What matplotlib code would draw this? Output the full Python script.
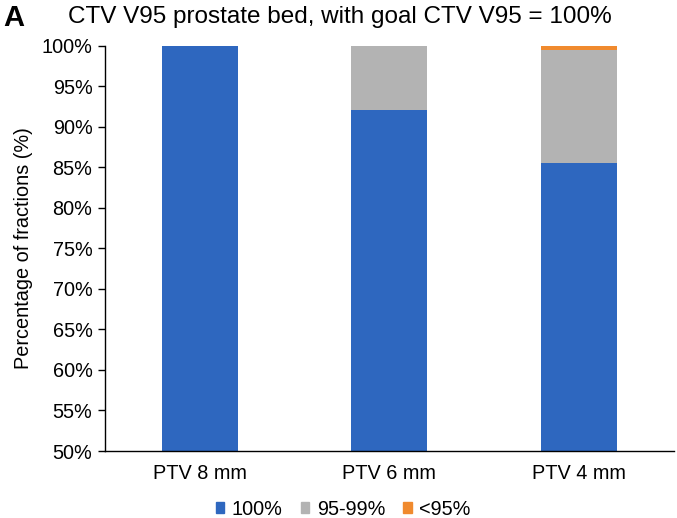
import numpy as np
import matplotlib
matplotlib.use("Agg")
import matplotlib.pyplot as plt
from matplotlib.patches import Patch

plt.rcParams['font.family'] = ['Liberation Sans', 'DejaVu Sans']

# data (percent of fractions)
categories = ["PTV 8 mm", "PTV 6 mm", "PTV 4 mm"]
v100 = [100.0, 92.0, 85.5]
v95_99 = [0.0, 8.0, 14.0]
v_lt95 = [0.0, 0.0, 0.5]
series_labels = ["100%", "95-99%", "<95%"]
colors = ["#2E67BF", "#B3B3B3", "#F08A2E"]

fig = plt.figure(figsize=(6.77, 5.18), dpi=100)
ax = fig.add_axes([0.155, 0.1293, 0.840, 0.7827])

x = np.arange(len(categories))
w = 0.4
ax.bar(x, v100, w, color=colors[0])
ax.bar(x, v95_99, w, bottom=v100, color=colors[1])
ax.bar(x, v_lt95, w, bottom=np.array(v100) + np.array(v95_99), color=colors[2])

ax.set_xlim(-0.5, 2.5)
ax.set_ylim(50, 100)
ax.set_yticks(np.arange(50, 101, 5))
ax.set_yticklabels([f"{t}%" for t in range(50, 101, 5)], fontsize=14.3)
ax.set_xticks(x)
ax.set_xticklabels(categories, fontsize=14.3)
ax.tick_params(axis='x', length=0, pad=9)
ax.tick_params(axis='y', length=5, width=1, pad=4)
for s in ["top", "right"]:
    ax.spines[s].set_visible(False)
ax.spines["left"].set_linewidth(1)
ax.spines["bottom"].set_linewidth(1)
ax.set_ylabel("Percentage of fractions (%)", fontsize=14.3, labelpad=6)

fig.text(0.502, 0.967, "CTV V95 prostate bed, with goal CTV V95 = 100%",
         ha="center", va="center", fontsize=17.5)
fig.text(0.005, 0.965, "A", ha="left", va="center", fontsize=21, fontweight="bold")

handles = [Patch(color=c, label=l) for c, l in zip(colors, series_labels)]
fig.legend(handles=handles, loc="center", bbox_to_anchor=(0.507, 0.017), ncol=3,
           frameon=False, fontsize=14.3, handlelength=0.42, handleheight=0.42,
           handletextpad=0.4, columnspacing=0.9, borderpad=0.1)

fig.savefig("out.png", dpi=100)
